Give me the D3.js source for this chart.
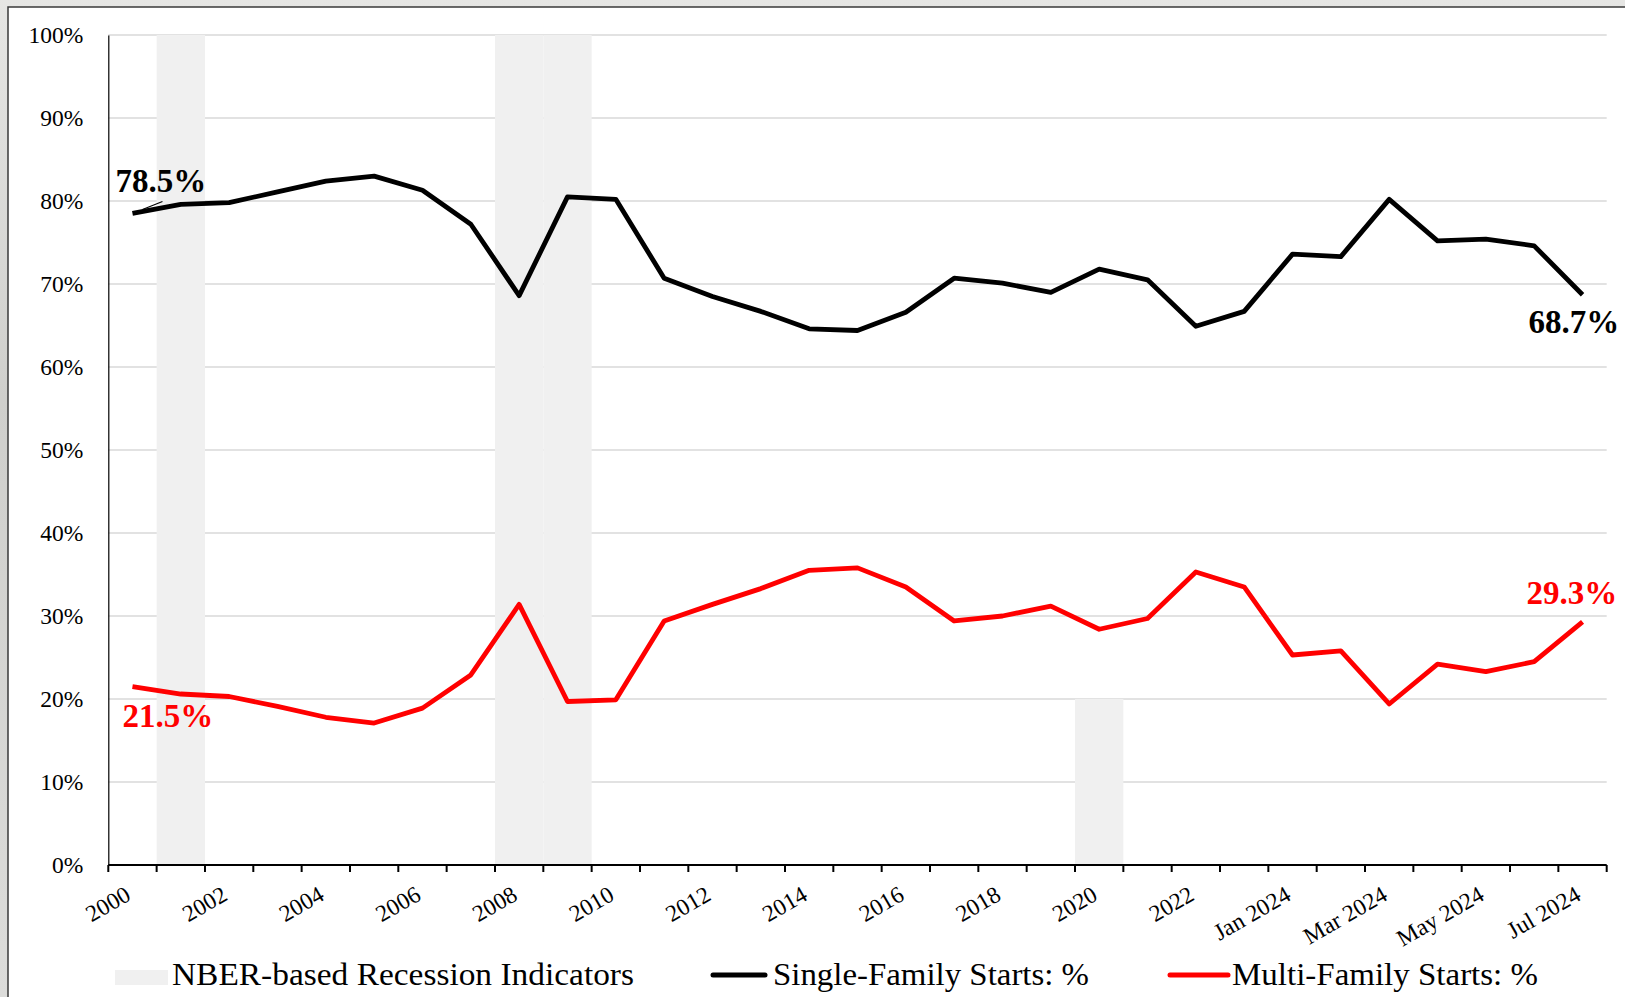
<!DOCTYPE html>
<html>
<head>
<meta charset="utf-8">
<script src="https://cdn.jsdelivr.net/npm/d3@7"></script>
<style>
  html, body { margin: 0; padding: 0; background: #fff; }
  svg { display: block; }
  text { font-family: 'Liberation Serif', 'Times New Roman', serif; }
</style>
</head>
<body>
<svg id="chart" width="1625" height="997"></svg>
<script>
// categories on the x axis (yearly to 2023, then monthly 2024)
const categories = ['2000','2001','2002','2003','2004','2005','2006','2007','2008','2009',
  '2010','2011','2012','2013','2014','2015','2016','2017','2018','2019',
  '2020','2021','2022','2023','Jan 2024','Feb 2024','Mar 2024','Apr 2024','May 2024','Jun 2024','Jul 2024'];

// share of total starts, %
const singleFamily = [78.5, 79.6, 79.8, 81.1, 82.4, 83.0, 81.3, 77.2, 68.6, 80.5,
  80.2, 70.7, 68.5, 66.7, 64.6, 64.4, 66.6, 70.7, 70.1, 69.0,
  71.8, 70.5, 64.9, 66.7, 73.6, 73.3, 80.2, 75.2, 75.4, 74.6, 68.7];

const multiFamily = [21.5, 20.6, 20.3, 19.1, 17.8, 17.1, 18.9, 22.9, 31.4, 19.7,
  19.9, 29.4, 31.4, 33.3, 35.5, 35.8, 33.5, 29.4, 30.0, 31.2,
  28.4, 29.7, 35.3, 33.5, 25.3, 25.8, 19.4, 24.2, 23.3, 24.5, 29.3];

// NBER recession indicator bars (share of axis height)
const recession = [0, 1, 0, 0, 0, 0, 0, 0, 1, 1,
  0, 0, 0, 0, 0, 0, 0, 0, 0, 0,
  0.2, 0, 0, 0, 0, 0, 0, 0, 0, 0, 0];

const yTicks = [0, 10, 20, 30, 40, 50, 60, 70, 80, 90, 100];
const xLabels = ['2000','2002','2004','2006','2008','2010','2012','2014','2016','2018',
  '2020','2022','Jan 2024','Mar 2024','May 2024','Jul 2024'];

const legendNames = ['NBER-based Recession Indicators', 'Single-Family Starts: %', 'Multi-Family Starts: %'];

const svg = d3.select('#chart');

// backdrop + panel
const defs = svg.append('defs');
const grad = defs.append('linearGradient').attr('id', 'bg').attr('x1', 0).attr('y1', 0).attr('x2', 0).attr('y2', 1);
grad.append('stop').attr('offset', '0%').attr('stop-color', '#e6e6e4');
grad.append('stop').attr('offset', '40%').attr('stop-color', '#cfcfcc');
grad.append('stop').attr('offset', '100%').attr('stop-color', '#dcdcda');
svg.append('rect').attr('width', 1625).attr('height', 997).attr('fill', 'url(#bg)');
svg.append('rect').attr('x', 8).attr('y', 7).attr('width', 1640).attr('height', 1010)
  .attr('fill', '#fff').attr('stroke', '#3a3a3a').attr('stroke-width', 1.5);

const plotLeft = 108.3, plotRight = 1606.7, plotTop = 35, plotBottom = 865;

const x = d3.scaleBand().domain(categories).range([plotLeft, plotRight]).padding(0);
const y = d3.scaleLinear().domain([0, 100]).range([plotBottom, plotTop]);
const cx = d => x(d) + x.bandwidth() / 2;

// gridlines
svg.append('g').selectAll('line').data(yTicks.filter(d => d > 0)).join('line')
  .attr('x1', plotLeft).attr('x2', plotRight)
  .attr('y1', d => y(d)).attr('y2', d => y(d))
  .attr('stroke', '#d9d9d9').attr('stroke-width', 1.5);

// recession shading
svg.append('g').selectAll('rect').data(categories.map((c, i) => ({ c, v: recession[i] })).filter(d => d.v > 0)).join('rect')
  .attr('x', d => x(d.c)).attr('width', x.bandwidth())
  .attr('y', d => y(d.v * 100)).attr('height', d => y(0) - y(d.v * 100))
  .attr('fill', '#f0f0f0');

// y axis
const yAxis = svg.append('g').attr('transform', `translate(${plotLeft},0)`)
  .call(d3.axisLeft(y).tickValues(yTicks).tickFormat(d => d + '%').tickSize(0).tickPadding(25));
yAxis.select('.domain').attr('stroke', '#000').attr('stroke-width', 1.2);
yAxis.selectAll('text').attr('font-size', 23.5).attr('fill', '#000').attr('font-family', "'Liberation Serif', serif");

// x axis: ticks on every band edge
const edges = d3.range(categories.length + 1).map(i => plotLeft + i * x.bandwidth());
const xg = svg.append('g');
xg.append('line').attr('x1', plotLeft).attr('x2', plotRight).attr('y1', plotBottom).attr('y2', plotBottom)
  .attr('stroke', '#000').attr('stroke-width', 2);
xg.selectAll('line.tick').data(edges).join('line').attr('class', 'tick')
  .attr('x1', d => d).attr('x2', d => d).attr('y1', plotBottom).attr('y2', plotBottom + 7)
  .attr('stroke', '#000').attr('stroke-width', 2);
xg.selectAll('text').data(xLabels).join('text')
  .attr('transform', d => `translate(${x(d) + 24},${plotBottom + 34}) rotate(-30)`)
  .attr('text-anchor', 'end')
  .attr('font-size', 23.5)
  .text(d => d);

// series lines
const line = d3.line().x((d, i) => cx(categories[i])).y(d => y(d));
svg.append('path').datum(singleFamily).attr('d', line)
  .attr('fill', 'none').attr('stroke', '#000').attr('stroke-width', 4.8).attr('stroke-linejoin', 'round');
svg.append('path').datum(multiFamily).attr('d', line)
  .attr('fill', 'none').attr('stroke', '#ff0000').attr('stroke-width', 4.8).attr('stroke-linejoin', 'round');

// end labels
const first = categories[0], last = categories[categories.length - 1];
const n = categories.length - 1;
function valueLabel(cat, v, dx, dy, color) {
  svg.append('text')
    .attr('x', cx(cat) + dx).attr('y', y(v) + dy)
    .attr('font-size', 33).attr('font-weight', 'bold').attr('fill', color)
    .text(v.toFixed(1) + '%');
}
valueLabel(first, singleFamily[0], -17, -21, '#000');
valueLabel(last, singleFamily[n], -54, 38, '#000');
valueLabel(first, multiFamily[0], -10, 40, '#ff0000');
valueLabel(last, multiFamily[n], -56, -18, '#ff0000');

// leader for the first single-family label
svg.append('line')
  .attr('x1', cx(first) + 10).attr('y1', y(singleFamily[0]) - 4)
  .attr('x2', cx(first) + 30).attr('y2', y(singleFamily[0]) - 12)
  .attr('stroke', '#000').attr('stroke-width', 1.2);

// legend
const lg = svg.append('g');
lg.append('rect').attr('x', 115).attr('y', 970).attr('width', 53).attr('height', 15).attr('fill', '#f0f0f0');
lg.append('text').attr('x', 172).attr('y', 985).attr('font-size', 31)
  .attr('textLength', 462).attr('lengthAdjust', 'spacingAndGlyphs').text(legendNames[0]);
lg.append('line').attr('x1', 713).attr('x2', 765).attr('y1', 975).attr('y2', 975)
  .attr('stroke', '#000').attr('stroke-width', 5).attr('stroke-linecap', 'round');
lg.append('text').attr('x', 773).attr('y', 985).attr('font-size', 31)
  .attr('textLength', 316).attr('lengthAdjust', 'spacingAndGlyphs').text(legendNames[1]);
lg.append('line').attr('x1', 1170).attr('x2', 1228).attr('y1', 975).attr('y2', 975)
  .attr('stroke', '#ff0000').attr('stroke-width', 5).attr('stroke-linecap', 'round');
lg.append('text').attr('x', 1232).attr('y', 985).attr('font-size', 31)
  .attr('textLength', 306).attr('lengthAdjust', 'spacingAndGlyphs').text(legendNames[2]);
</script>
</body>
</html>
